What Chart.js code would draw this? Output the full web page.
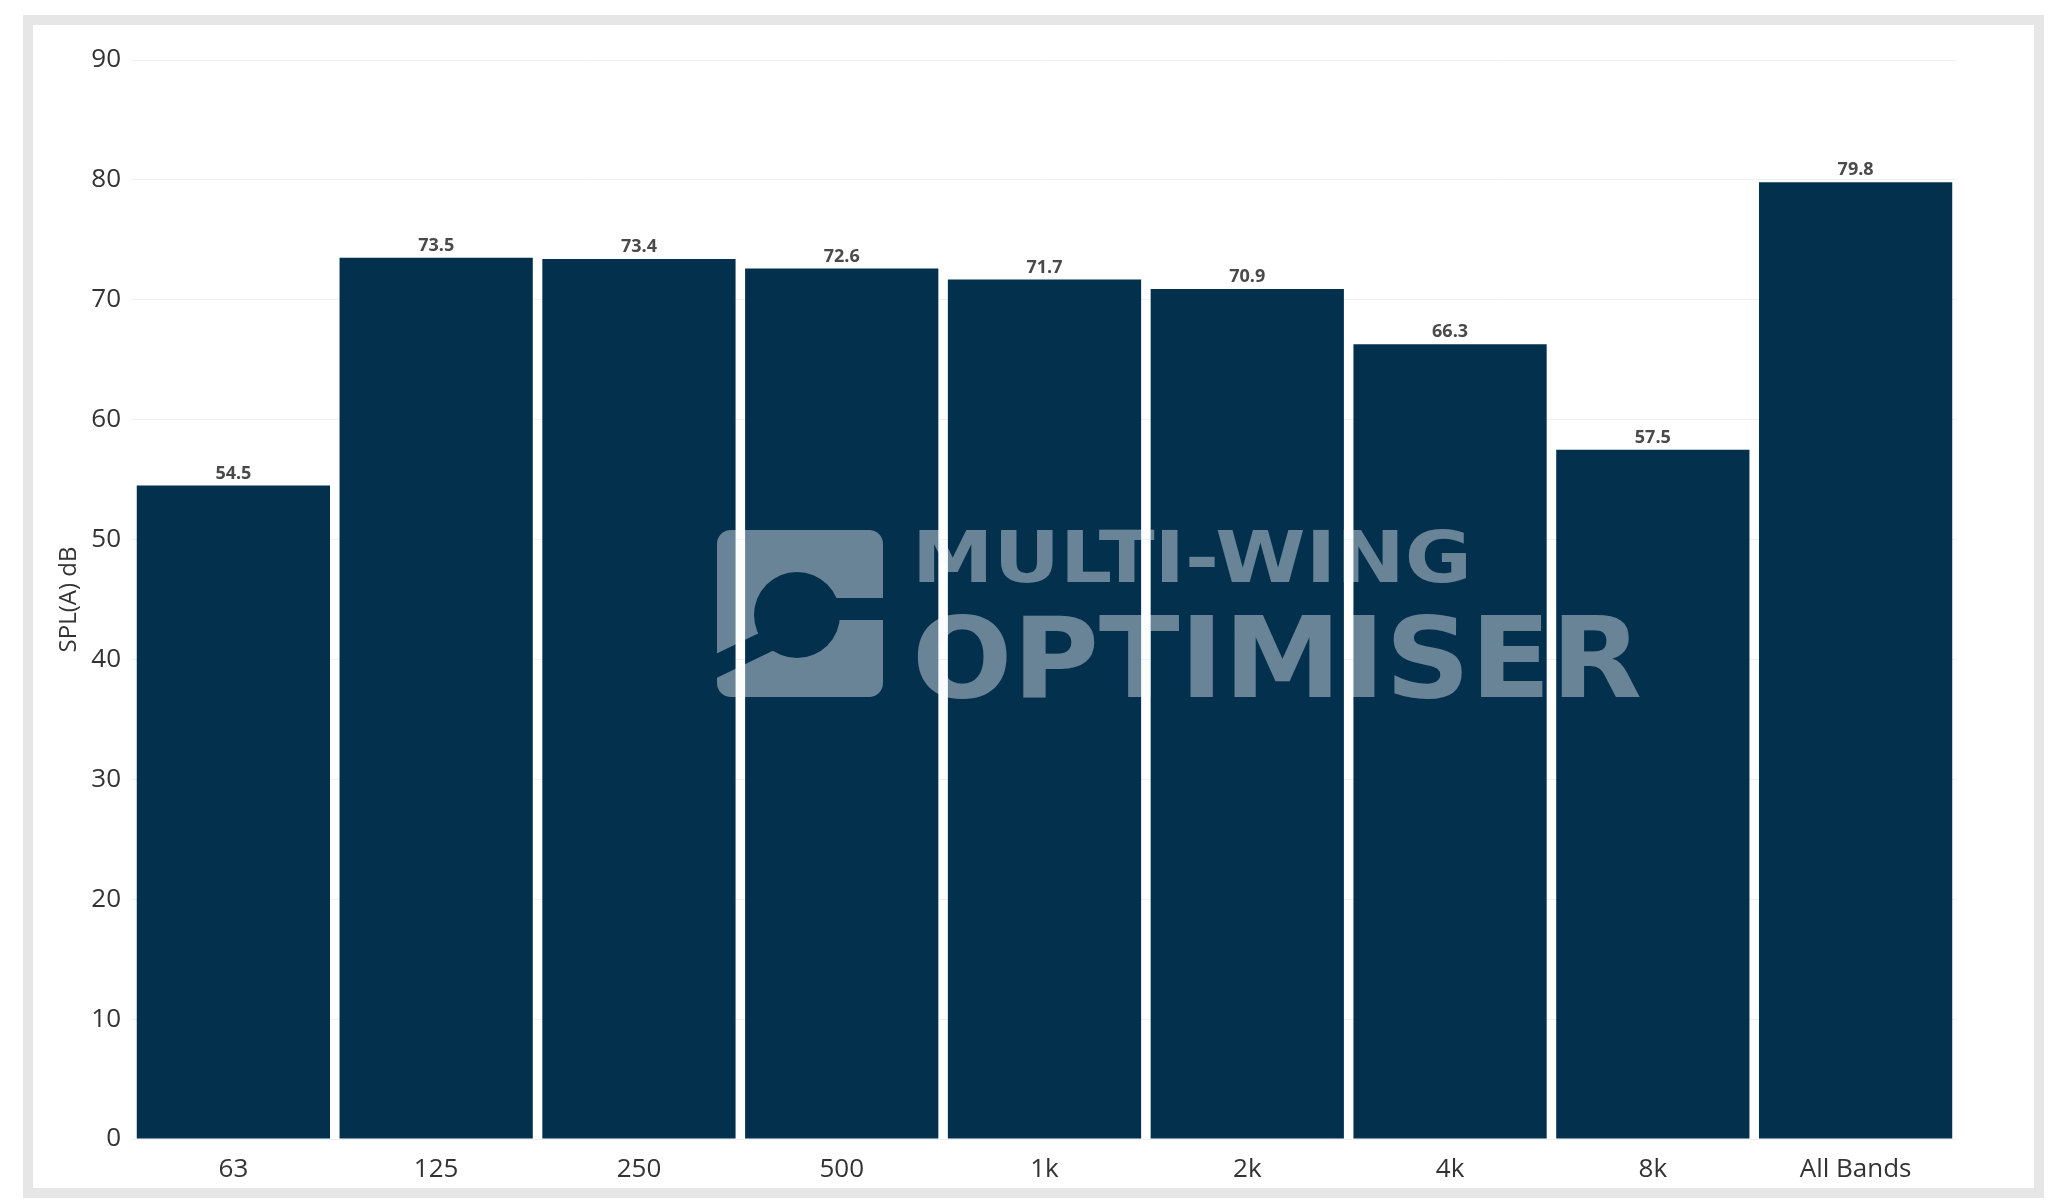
<!DOCTYPE html>
<html lang="en">
<head>
  <meta charset="UTF-8" />
  <title>SPL(A) by band</title>
  <script src="https://cdn.jsdelivr.net/npm/chart.js"></script>
  <style>
    body { margin: 0; background: #fff; }
    canvas { display: block; }
  </style>
</head>
<body>
  <canvas id="barChart" width="2051" height="1202"></canvas>

  <script>
    const bands = ["63", "125", "250", "500", "1k", "2k", "4k", "8k", "All Bands"];
    const splValues = [54.5, 73.5, 73.4, 72.6, 71.7, 70.9, 66.3, 57.5, 79.8];
    const yTicks = [0, 10, 20, 30, 40, 50, 60, 70, 80, 90];

    const FONT = "'Open Sans', 'Noto Sans', sans-serif";
    const BAR_COLOR = "#03314d";

    // light grey frame round the whole picture
    const framePlugin = {
      id: "frame",
      beforeDraw(chart) {
        const ctx = chart.ctx;
        ctx.save();
        ctx.strokeStyle = "#e6e6e6";
        ctx.lineWidth = 10;
        ctx.strokeRect(28, 20, 2011, 1173);
        ctx.restore();
      }
    };

    // value printed above each bar
    const valueLabels = {
      id: "valueLabels",
      afterDatasetsDraw(chart) {
        const ctx = chart.ctx;
        const meta = chart.getDatasetMeta(0);
        ctx.save();
        ctx.font = "bold 18px " + FONT;
        ctx.fillStyle = "#4a4a4a";
        ctx.textAlign = "center";
        ctx.textBaseline = "bottom";
        meta.data.forEach((bar, i) => {
          ctx.fillText(splValues[i].toFixed(1), bar.x, bar.y - 3);
        });
        ctx.restore();
      }
    };

    // watermark logo drawn over the bars
    const watermark = {
      id: "watermark",
      afterDatasetsDraw(chart) {
        const ctx = chart.ctx;
        const off = document.createElement("canvas");
        off.width = 2051;
        off.height = 1202;
        const o = off.getContext("2d");
        o.fillStyle = "#f4f8fb";

        // rounded square with a round hole and two slits
        o.beginPath();
        o.roundRect(717, 530, 166, 167, 14);
        o.fill();
        o.globalCompositeOperation = "destination-out";
        o.beginPath();
        o.arc(797, 615, 43, 0, Math.PI * 2);
        o.fill();
        o.fillRect(820, 598, 70, 22);
        o.save();
        o.translate(770, 640);
        o.rotate(-0.45);
        o.fillRect(-70, -11, 80, 22);
        o.restore();
        o.globalCompositeOperation = "source-over";

        // lettering, squeezed to the logo's width
        const fitText = (text, size, x, yBase, width) => {
          o.font = "bold " + size + "px 'DejaVu Sans', sans-serif";
          const w = o.measureText(text).width;
          o.save();
          o.translate(x, yBase);
          o.scale(width / w, 1);
          o.textBaseline = "alphabetic";
          o.fillText(text, 0, 0);
          o.restore();
        };
        fitText("MULTI-WING", 71, 912, 582, 560);
        fitText("OPTIMISER", 112, 912, 697, 730);

        ctx.save();
        ctx.globalAlpha = 0.42;
        ctx.drawImage(off, 0, 0);
        ctx.restore();
      }
    };

    function drawBarChart() {
      const ctx = document.getElementById("barChart").getContext("2d");
      new Chart(ctx, {
        type: "bar",
        data: {
          labels: bands,
          datasets: [{
            label: "SPL(A) dB",
            data: splValues,
            backgroundColor: BAR_COLOR,
            borderWidth: 0,
            categoryPercentage: 1.0,
            barPercentage: 0.953
          }]
        },
        options: {
          responsive: false,
          animation: false,
          layout: {
            padding: { left: 52, right: 94, top: 60, bottom: 0 }
          },
          scales: {
            x: {
              grid: { display: false, drawTicks: false },
              border: { display: false },
              ticks: {
                color: "#333",
                font: { family: FONT, size: 26 },
                padding: 15,
                maxRotation: 0
              },
              afterFit(scale) { scale.height = 63; }
            },
            y: {
              min: 0,
              max: 90,
              afterBuildTicks(scale) {
                scale.ticks = yTicks.map(v => ({ value: v }));
              },
              grid: { color: "#f0f0f0", lineWidth: 1, drawTicks: false },
              border: { display: false },
              ticks: {
                color: "#333",
                font: { family: FONT, size: 26 },
                padding: 11
              },
              title: {
                display: true,
                text: "SPL(A) dB",
                color: "#333",
                font: { family: FONT, size: 24 },
                padding: { top: 3, bottom: 0 }
              },
              afterFit(scale) { scale.width = 80; }
            }
          },
          plugins: {
            legend: { display: false },
            tooltip: { enabled: false }
          }
        },
        plugins: [framePlugin, valueLabels, watermark]
      });
    }

    drawBarChart();
  </script>
</body>
</html>
